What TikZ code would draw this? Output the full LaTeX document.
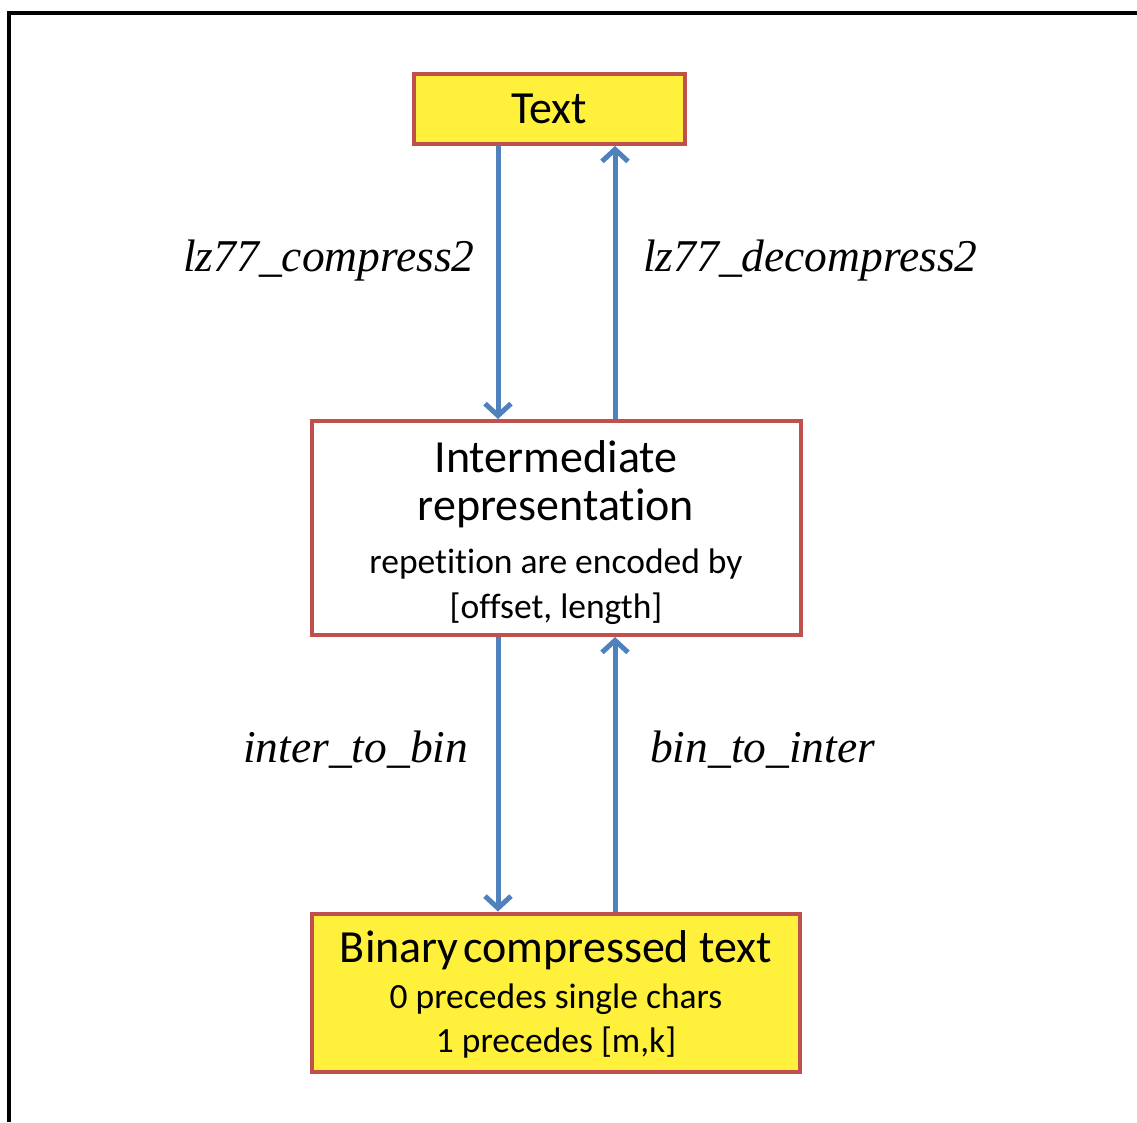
\documentclass[tikz,border=0pt]{standalone}
\usepackage{fontspec}
\setmainfont[Ligatures=NoCommon]{Carlito}
\newfontfamily\labelfont{Liberation Serif}
\usetikzlibrary{arrows.meta}
\definecolor{boxred}{RGB}{192,80,77}
\definecolor{boxyellow}{RGB}{255,240,60}
\definecolor{arrowblue}{RGB}{79,129,189}
\begin{document}
\begin{tikzpicture}[x=1pt,y=-1pt,
  stagebox/.style={draw=boxred,line width=4pt,rectangle,inner sep=0pt},
  bigtext/.style={anchor=base,inner sep=0pt,font=\fontsize{46}{50}\selectfont},
  smalltext/.style={anchor=base,inner sep=0pt,font=\fontsize{35.5}{40}\selectfont},
  fnlabel/.style={anchor=base west,inner sep=0pt,font=\labelfont\itshape\fontsize{45.5}{50}\selectfont},
  flow/.style={draw=arrowblue,line width=5pt,-{Straight Barb[length=12pt,width=26pt]}}]
  \useasboundingbox (0,0) rectangle (1137,1122);
  % frame (top and left edges)
  \draw[line width=3.2pt] (9,1122) -- (9,13) -- (1137,13);

  % stage boxes
  \node[stagebox,fill=boxyellow,minimum width=271pt,minimum height=70.5pt] (T) at (549,108.75) {};
  \node[stagebox,fill=white,minimum width=488.5pt,minimum height=214pt] (I) at (556.25,528) {};
  \node[stagebox,fill=boxyellow,minimum width=488pt,minimum height=158.5pt] (B) at (556,992.75) {};

  % box texts
  \node[bigtext] (tT) at (549,123) {Text};
  \node[bigtext] (tI1) at (556,472) {Intermediate};
  \node[bigtext] (tI2) at (556,520) {representation};
  \node[smalltext] (tI3) at (556,573) {repetition are encoded by};
  \node[smalltext] (tI4) at (556,618) {[offset, length]};
  \node[bigtext] (tB1) at (556,962) {Binary\hspace{0.1em}compressed text};
  \node[smalltext] (tB2) at (556,1008) {0 precedes single chars};
  \node[smalltext] (tB3) at (556,1052) {1 precedes [m,k]};

  % arrow columns
  \coordinate (down) at (498,0);
  \coordinate (up) at (615,0);

  % connectors
  \draw[flow] (T.south -| down) -- (I.north -| down);
  \draw[flow] (I.north -| up) -- (T.south -| up);
  \draw[flow] (I.south -| down) -- (B.north -| down);
  \draw[flow] (B.north -| up) -- (I.south -| up);

  % function names
  \node[fnlabel] (l1) at (183,271) {lz77\_compress2};
  \node[fnlabel] (l2) at (643,271) {lz77\_decompress2};
  \node[fnlabel] (l3) at (243,762) {inter\_to\_bin};
  \node[fnlabel] (l4) at (650,762) {bin\_to\_inter};
\end{tikzpicture}
\end{document}
